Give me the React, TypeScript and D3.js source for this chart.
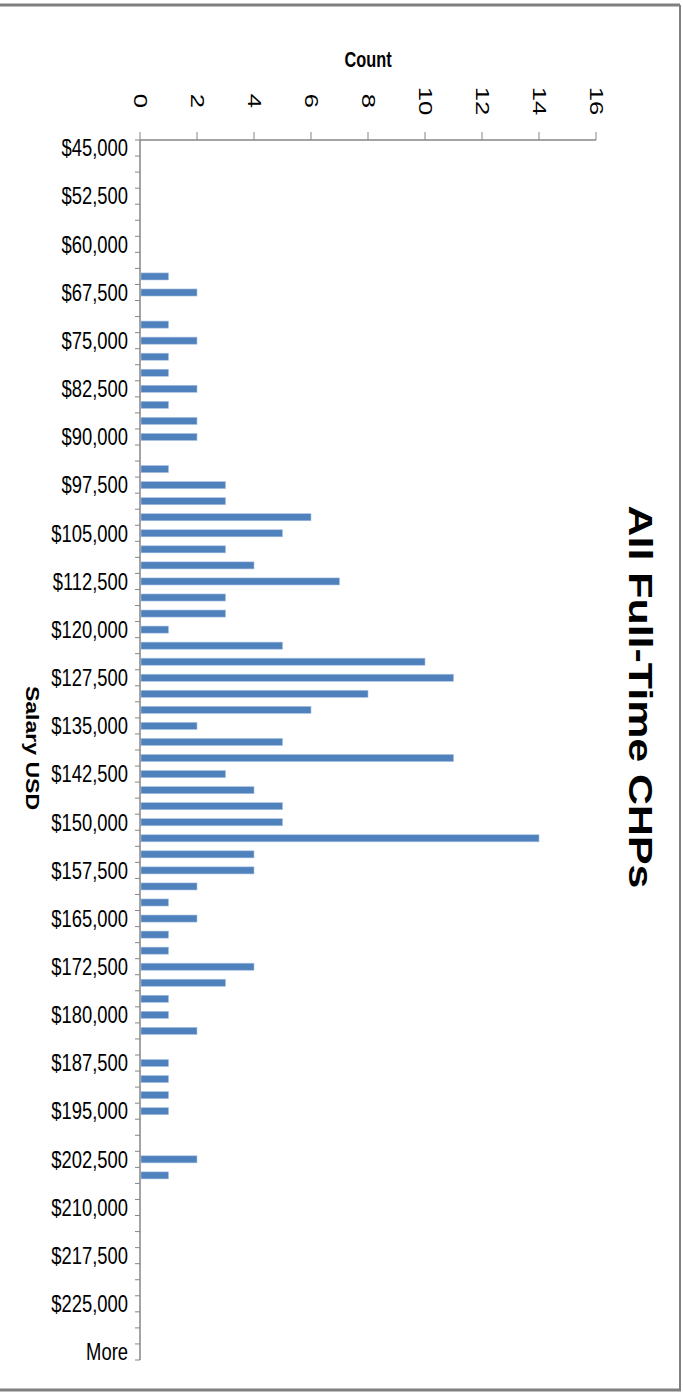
import React from "react";
import * as d3 from "d3";

const salaryBins = [
  "$45,000", "$47,500", "$50,000", "$52,500", "$55,000", "$57,500", "$60,000", "$62,500",
  "$65,000", "$67,500", "$70,000", "$72,500", "$75,000", "$77,500", "$80,000", "$82,500",
  "$85,000", "$87,500", "$90,000", "$92,500", "$95,000", "$97,500", "$100,000", "$102,500",
  "$105,000", "$107,500", "$110,000", "$112,500", "$115,000", "$117,500", "$120,000", "$122,500",
  "$125,000", "$127,500", "$130,000", "$132,500", "$135,000", "$137,500", "$140,000", "$142,500",
  "$145,000", "$147,500", "$150,000", "$152,500", "$155,000", "$157,500", "$160,000", "$162,500",
  "$165,000", "$167,500", "$170,000", "$172,500", "$175,000", "$177,500", "$180,000", "$182,500",
  "$185,000", "$187,500", "$190,000", "$192,500", "$195,000", "$197,500", "$200,000", "$202,500",
  "$205,000", "$207,500", "$210,000", "$212,500", "$215,000", "$217,500", "$220,000", "$222,500",
  "$225,000", "$227,500", "$230,000", "More",
];

const counts = [
  0, 0, 0, 0, 0, 0, 0, 0,
  1, 2, 0, 1, 2, 1, 1, 2,
  1, 2, 2, 0, 1, 3, 3, 6,
  5, 3, 4, 7, 3, 3, 1, 5,
  10, 11, 8, 6, 2, 5, 11, 3,
  4, 5, 5, 14, 4, 4, 2, 1,
  2, 1, 1, 4, 3, 1, 1, 2,
  0, 1, 1, 1, 1, 0, 0, 2,
  1, 0, 0, 0, 0, 0, 0, 0,
  0, 0, 0, 0,
];

const countTicks = [0, 2, 4, 6, 8, 10, 12, 14, 16];
const chartTitle = "All Full-Time CHPs";
const xTitle = "Count";
const yTitle = "Salary USD";

const W = 683;
const H = 1398;
const STRETCH = 1.28;
const labelFont = "'Liberation Sans', Arial, sans-serif";
const titleFont = "'Liberation Sans', Arial, sans-serif";
const axisColor = "#868686";
const barColor = "#4f81bd";

export default function App() {
  const y = d3
    .scaleBand<string>()
    .domain(salaryBins)
    .range([140, 1360])
    .paddingInner(0.56)
    .paddingOuter(0.28);
  const x = d3.scaleLinear().domain([0, 16]).range([140, 596]);
  const step = y.step();
  const bw = y.bandwidth();
  const center = (c: string) => (y(c) as number) + bw / 2;
  const boundaries = salaryBins
    .map((c) => center(c) - step / 2)
    .concat([center(salaryBins[salaryBins.length - 1]) + step / 2]);

  return (
    <div style={{ position: "absolute", left: 0, top: 0 }}>
      <svg width={W} height={H} style={{ display: "block", background: "#fff" }}>
        {/* frame */}
        <line x1={0} x2={680} y1={5} y2={5} stroke="#808080" strokeWidth={3} />
        <line x1={680} x2={680} y1={5} y2={1390} stroke="#808080" strokeWidth={2} />
        <line x1={0} x2={681} y1={1390} y2={1390} stroke="#808080" strokeWidth={3} />

        {/* bars */}
        {salaryBins.map((c, i) =>
          counts[i] > 0 ? (
            <rect
              key={c}
              x={x(0) + 1}
              y={y(c) as number}
              width={x(counts[i]) - x(0) - 1}
              height={bw}
              fill={barColor}
              stroke="#a9c2e3"
              strokeWidth={0.6}
            />
          ) : null
        )}

        {/* value axis (top) */}
        <line x1={x(0)} x2={x(16)} y1={140} y2={140} stroke={axisColor} strokeWidth={1.5} />
        {countTicks.map((t) => (
          <g key={t}>
            <line x1={x(t)} x2={x(t)} y1={132} y2={140} stroke={axisColor} strokeWidth={1} />
            <text
              transform={`translate(${x(t)},101) rotate(90) scale(1.35,1)`}
              textAnchor="middle"
              dominantBaseline="central"
              fontFamily={labelFont}
              fontSize={19}
              fill="#000"
            >
              {t}
            </text>
          </g>
        ))}

        {/* category axis (left) */}
        <line x1={140} x2={140} y1={140} y2={1360} stroke={axisColor} strokeWidth={1.5} />
        {boundaries.map((b, i) => (
          <line key={i} x1={135} x2={140} y1={b} y2={b} stroke={axisColor} strokeWidth={1} />
        ))}
        {salaryBins.map((c, i) =>
          i % 3 === 0 ? (
            <text
              key={c}
              transform={`translate(128,${center(c)}) scale(0.8,1)`}
              textAnchor="end"
              dominantBaseline="central"
              fontFamily={labelFont}
              fontSize={23}
              fill="#000"
            >
              {c}
            </text>
          ) : null
        )}

        {/* titles */}
        <text
          transform="translate(368,60) scale(0.86,1.12)"
          textAnchor="middle"
          dominantBaseline="central"
          fontFamily={labelFont}
          fontWeight="bold"
          fontSize={19}
        >
          {xTitle}
        </text>
        <text
          transform={`translate(33,748) rotate(90) scale(${STRETCH},1)`}
          textAnchor="middle"
          dominantBaseline="central"
          fontFamily={titleFont}
          fontWeight="bold"
          fontSize={18}
        >
          {yTitle}
        </text>
        <text
          transform={`translate(641,697) rotate(90) scale(1.3,1)`}
          textAnchor="middle"
          dominantBaseline="central"
          fontFamily={titleFont}
          fontWeight="bold"
          fontSize={33}
        >
          {chartTitle}
        </text>
      </svg>
    </div>
  );
}
